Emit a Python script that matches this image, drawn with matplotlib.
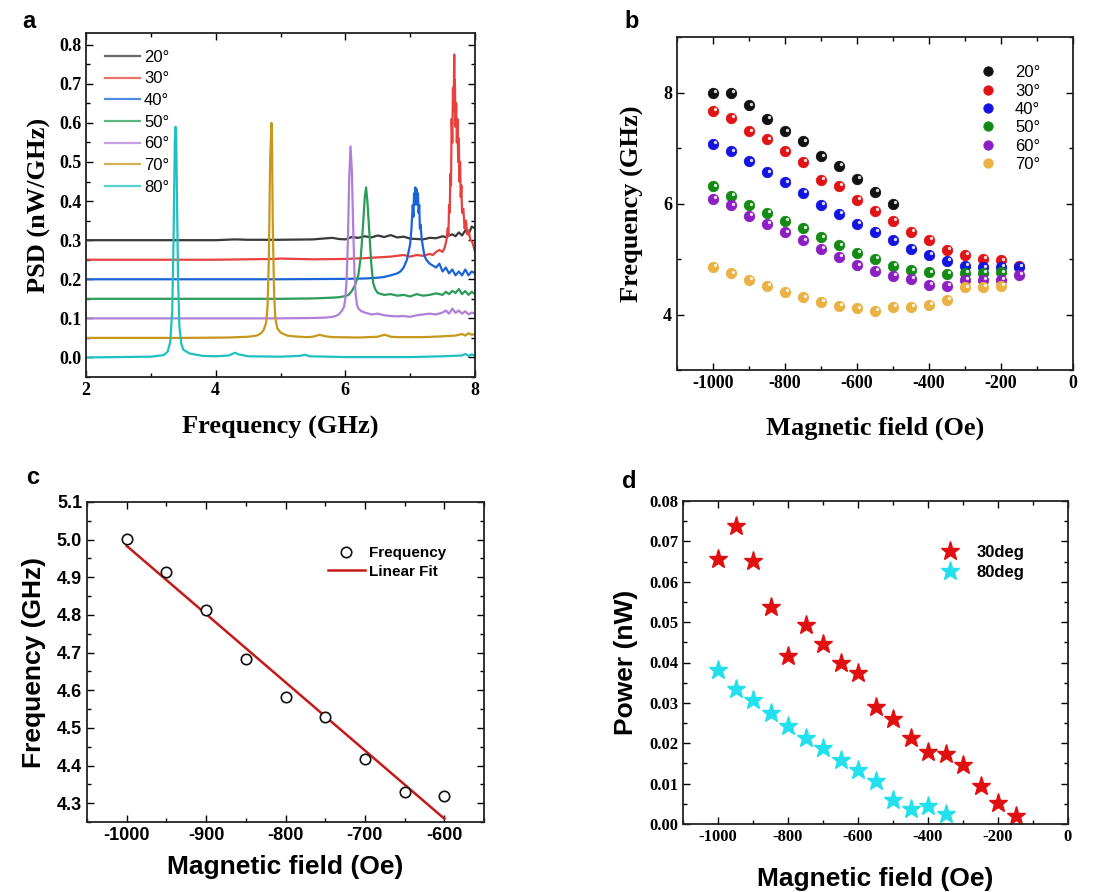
import numpy as np
import matplotlib
matplotlib.use("Agg")
import matplotlib.pyplot as plt
from matplotlib.ticker import MultipleLocator, FormatStrFormatter
from matplotlib import transforms

plt.rcParams["axes.unicode_minus"] = False

# ---------------- Panel a data: PSD spectra (values above each trace's baseline) ----------------
angles_a = ["20°", "30°", "40°", "50°", "60°", "70°", "80°"]
offsets_a = [0.30, 0.25, 0.20, 0.15, 0.10, 0.05, 0.00]
colors_a = ["#3a3a3a", "#e8403c", "#1a64d8", "#2b9c58", "#b07fd8", "#c6991c", "#1fc0c0"]

f20 = [2, 4.0, 4.3, 4.5, 5.0, 5.5, 5.8, 5.9, 6.0, 6.1, 6.2, 6.3, 6.4, 6.5, 6.6, 6.7, 6.8, 6.9, 7.0,
       7.1, 7.2, 7.3, 7.4, 7.5, 7.55, 7.6, 7.65, 7.7, 7.75, 7.8, 7.85, 7.9, 7.95, 8.0]
p20 = [0, 0, 0.002, 0.001, 0.001, 0.002, 0.006, 0.003, 0.002, 0.008, 0.006, 0.01, 0.007, 0.012, 0.008,
       0.013, 0.007, 0.009, 0.004, 0.003, 0.002, 0.006, 0.005, 0.01, 0.008, 0.012, 0.015, 0.01, 0.02,
       0.012, 0.025, 0.015, 0.035, 0.03]

f30 = [2.0, 4.0, 4.9, 5.0, 5.5, 6.0, 6.3, 6.5, 6.7, 6.8, 6.9, 7.0, 7.1, 7.2, 7.3, 7.35, 7.4, 7.45,
       7.5, 7.53, 7.56, 7.58, 7.59, 7.6, 7.61, 7.62, 7.63, 7.64, 7.65, 7.66, 7.67, 7.68, 7.685, 7.69,
       7.7, 7.71, 7.72, 7.73, 7.74, 7.75, 7.76, 7.77, 7.78, 7.79, 7.8, 7.82, 7.84, 7.86, 7.88, 7.9,
       7.93, 7.96, 8.0]
p30 = [0, 0, 0.002, 0.003, 0.001, 0.002, 0.004, 0.006, 0.008, 0.01, 0.012, 0.008, 0.012, 0.01, 0.015,
       0.012, 0.02, 0.025, 0.02, 0.03, 0.05, 0.08, 0.06, 0.14, 0.12, 0.22, 0.19, 0.36, 0.30, 0.44,
       0.38, 0.525, 0.40, 0.46, 0.34, 0.40, 0.30, 0.36, 0.25, 0.31, 0.20, 0.25, 0.16, 0.19, 0.12,
       0.13, 0.08, 0.10, 0.065, 0.075, 0.05, 0.045, 0.02]

f40 = [2, 5, 6.0, 6.3, 6.5, 6.6, 6.7, 6.8, 6.85, 6.9, 6.95, 7.0, 7.02, 7.04, 7.05, 7.06, 7.07, 7.08,
       7.09, 7.1, 7.11, 7.12, 7.13, 7.14, 7.15, 7.16, 7.18, 7.2, 7.22, 7.25, 7.3, 7.35, 7.4, 7.45,
       7.5, 7.55, 7.6, 7.65, 7.7, 7.75, 7.8, 7.85, 7.9, 7.95, 8.0]
p40 = [0, 0, 0.001, 0.002, 0.004, 0.006, 0.01, 0.015, 0.02, 0.03, 0.05, 0.09, 0.13, 0.19, 0.16, 0.22,
       0.19, 0.235, 0.20, 0.23, 0.19, 0.22, 0.17, 0.19, 0.13, 0.14, 0.10, 0.08, 0.06, 0.05, 0.04,
       0.035, 0.03, 0.04, 0.02, 0.03, 0.015, 0.025, 0.01, 0.02, 0.01, 0.025, 0.01, 0.02, 0.015]

f50 = [2, 5.0, 5.5, 5.8, 5.9, 6.0, 6.05, 6.1, 6.15, 6.2, 6.24, 6.27, 6.3, 6.32, 6.34, 6.37, 6.4, 6.43,
       6.46, 6.5, 6.6, 6.7, 6.8, 6.9, 7.0, 7.1, 7.2, 7.3, 7.4, 7.5, 7.55, 7.6, 7.65, 7.7, 7.75, 7.8,
       7.85, 7.9, 7.95, 8.0]
p50 = [0, 0, 0.001, 0.003, 0.004, 0.007, 0.01, 0.02, 0.035, 0.06, 0.11, 0.18, 0.26, 0.285, 0.25, 0.17,
       0.09, 0.04, 0.025, 0.015, 0.01, 0.012, 0.008, 0.01, 0.006, 0.012, 0.008, 0.01, 0.014, 0.01,
       0.018, 0.012, 0.02, 0.015, 0.025, 0.012, 0.02, 0.01, 0.018, 0.012]

f60 = [2, 5.0, 5.5, 5.7, 5.8, 5.85, 5.9, 5.95, 5.98, 6.0, 6.02, 6.04, 6.06, 6.08, 6.1, 6.12, 6.14,
       6.16, 6.18, 6.2, 6.25, 6.3, 6.4, 6.5, 6.6, 6.7, 6.8, 6.9, 7.0, 7.1, 7.2, 7.3, 7.4, 7.5, 7.55,
       7.6, 7.65, 7.7, 7.75, 7.8, 7.85, 7.9, 7.95, 8.0]
p60 = [0, 0, 0.001, 0.002, 0.004, 0.006, 0.01, 0.02, 0.03, 0.05, 0.10, 0.2, 0.36, 0.44, 0.38, 0.24,
       0.12, 0.06, 0.035, 0.025, 0.018, 0.015, 0.01, 0.012, 0.008, 0.006, 0.005, 0.006, 0.004, 0.008,
       0.01, 0.012, 0.01, 0.015, 0.02, 0.012, 0.025, 0.014, 0.02, 0.012, 0.018, 0.01, 0.015, 0.012]

f70 = [2, 3.5, 4.2, 4.5, 4.6, 4.65, 4.7, 4.74, 4.78, 4.8, 4.82, 4.84, 4.86, 4.87, 4.88, 4.9, 4.92,
       4.95, 5.0, 5.05, 5.1, 5.2, 5.4, 5.5, 5.6, 5.7, 5.8, 6.2, 6.5, 6.6, 6.65, 6.7, 6.8, 7.2, 7.5,
       7.7, 7.8, 7.85, 7.9, 7.95, 8.0]
p70 = [0, 0, 0.001, 0.003, 0.005, 0.007, 0.012, 0.02, 0.04, 0.08, 0.2, 0.45, 0.55, 0.5, 0.3, 0.12,
       0.05, 0.025, 0.014, 0.01, 0.006, 0.004, 0.002, 0.003, 0.008, 0.004, 0.002, 0.001, 0.003, 0.008,
       0.006, 0.003, 0.002, 0.002, 0.004, 0.006, 0.01, 0.006, 0.012, 0.008, 0.01]

f80 = [2.0, 2.5, 3.0, 3.2, 3.26, 3.3, 3.33, 3.35, 3.37, 3.38, 3.39, 3.40, 3.42, 3.44, 3.47, 3.5, 3.6,
       3.8, 4.0, 4.2, 4.3, 4.35, 4.5, 5.0, 5.3, 5.38, 5.45, 6.0, 7.0, 7.5, 7.8, 7.85, 7.9, 7.95, 8.0]
p80 = [0.0, 0.001, 0.002, 0.006, 0.015, 0.04, 0.12, 0.3, 0.55, 0.59, 0.58, 0.45, 0.2, 0.08, 0.035,
       0.02, 0.01, 0.004, 0.003, 0.005, 0.012, 0.008, 0.003, 0.002, 0.004, 0.007, 0.003, 0.001, 0.001,
       0.003, 0.005, 0.009, 0.004, 0.008, 0.004]

freqs_a = [f20, f30, f40, f50, f60, f70, f80]
psds_a = [p20, p30, p40, p50, p60, p70, p80]

# ---------------- Panel b data: resonance frequency vs field ----------------
field_b = [-1000, -950, -900, -850, -800, -750, -700, -650, -600, -550, -500, -450, -400, -350,
           -300, -250, -200, -150]
labels_b = ["20°", "30°", "40°", "50°", "60°", "70°"]
colors_b = ["#111111", "#e01414", "#1414e0", "#138a13", "#8c1fc4", "#eab143"]
freq20_b = [8.00, 7.99, 7.77, 7.53, 7.30, 7.12, 6.85, 6.68, 6.44, 6.21, 5.99]
freq30_b = [7.67, 7.54, 7.30, 7.16, 6.94, 6.75, 6.43, 6.32, 6.07, 5.87, 5.69, 5.49, 5.35, 5.17,
            5.08, 5.00, 4.98, 4.88]
freq40_b = [7.08, 6.94, 6.76, 6.56, 6.38, 6.19, 5.98, 5.81, 5.63, 5.49, 5.34, 5.18, 5.08, 4.97,
            4.88, 4.85, 4.86, 4.86]
freq50_b = [6.31, 6.14, 5.97, 5.83, 5.69, 5.55, 5.39, 5.25, 5.11, 5.00, 4.88, 4.80, 4.76, 4.73,
            4.75, 4.75, 4.76]
freq60_b = [6.08, 5.97, 5.78, 5.63, 5.48, 5.34, 5.18, 5.04, 4.89, 4.79, 4.70, 4.64, 4.53, 4.52,
            4.63, 4.63, 4.63, 4.71]
freq70_b = [4.86, 4.74, 4.63, 4.52, 4.41, 4.31, 4.23, 4.16, 4.11, 4.07, 4.14, 4.14, 4.17, 4.26,
            4.49, 4.50, 4.52]
freqs_b = [freq20_b, freq30_b, freq40_b, freq50_b, freq60_b, freq70_b]

# ---------------- Panel c data ----------------
field_c = [-1000, -950, -900, -850, -800, -750, -700, -650, -600]
freq_c = [5.003, 4.913, 4.812, 4.684, 4.583, 4.530, 4.418, 4.329, 4.318]

# ---------------- Panel d data ----------------
field_d30 = [-1000, -950, -900, -850, -800, -750, -700, -650, -600, -550, -500, -450, -400, -350,
             -300, -250, -200, -150]
power_d30 = [0.0656, 0.0737, 0.0652, 0.0538, 0.0417, 0.0493, 0.0445, 0.0400, 0.0375, 0.0289,
             0.0260, 0.0214, 0.0178, 0.0174, 0.0147, 0.0095, 0.0052, 0.0021]
field_d80 = [-1000, -950, -900, -850, -800, -750, -700, -650, -600, -550, -500, -450, -400, -350]
power_d80 = [0.0382, 0.0334, 0.0307, 0.0274, 0.0243, 0.0213, 0.0189, 0.0159, 0.0134, 0.0107,
             0.0059, 0.0038, 0.0045, 0.0026]

# ---------------- Figure ----------------
W, H = 1105, 892
fig = plt.figure(figsize=(W / 100, H / 100), dpi=100)


def box(l, t, r, b):
    return [l / W, 1 - b / H, (r - l) / W, (b - t) / H]


SERIF = "Liberation Serif"
SANS = "Liberation Sans"


def style_ticks(ax, family, size):
    ax.tick_params(which="both", direction="in", top=True, right=True, width=1.0)
    ax.tick_params(which="major", length=5)
    ax.tick_params(which="minor", length=3)
    for lab in ax.get_xticklabels() + ax.get_yticklabels():
        lab.set_fontfamily(family)
        lab.set_fontweight("bold")
        lab.set_fontsize(size)
    for s in ax.spines.values():
        s.set_linewidth(1.3)
        s.set_color("#222222")


# ---- Panel a ----
axa = fig.add_axes(box(86, 33, 475, 377))
for lab, off, col, f, p in zip(angles_a, offsets_a, colors_a, freqs_a, psds_a):
    axa.plot(f, np.array(p) + off, color=col, lw=1.6, label=lab)
axa.set_xlim(2, 8)
axa.set_ylim(-0.05, 0.83)
axa.xaxis.set_major_locator(MultipleLocator(2))
axa.xaxis.set_minor_locator(MultipleLocator(1))
axa.yaxis.set_major_locator(MultipleLocator(0.1))
axa.yaxis.set_minor_locator(MultipleLocator(0.05))
axa.yaxis.set_major_formatter(FormatStrFormatter("%.1f"))
style_ticks(axa, SERIF, 13)
axa.set_xlabel("Frequency (GHz)", fontfamily=SERIF, fontweight="bold", fontsize=19, labelpad=12)
axa.set_ylabel("PSD (nW/GHz)", fontfamily=SERIF, fontweight="bold", fontsize=19, labelpad=6)
lega = axa.legend(loc="upper left", frameon=False, prop={"family": SANS, "size": 12},
                  handlelength=2.1, handletextpad=0.25, labelspacing=0.4,
                  bbox_to_anchor=(0.01, 0.995))
for h in lega.get_lines():
    h.set_alpha(0.75)
    h.set_linewidth(1.6)

# ---- Panel b ----
axb = fig.add_axes(box(677, 37, 1073, 370))
hl_off = transforms.offset_copy(axb.transData, fig=fig, x=1.6, y=1.6, units="dots")
for lab, col, fr in zip(labels_b, colors_b, freqs_b):
    xs = field_b[:len(fr)]
    axb.plot(xs, fr, ls="none", marker="o", ms=7.5, mfc=col, mec=col, mew=0.6, label=lab)
    axb.plot(xs, fr, ls="none", marker="o", ms=2.4, mfc="white", mec="none", alpha=0.85,
             transform=hl_off)
axb.set_xlim(-1100, 0)
axb.set_ylim(3, 9)
axb.xaxis.set_major_locator(MultipleLocator(200))
axb.xaxis.set_minor_locator(MultipleLocator(100))
axb.yaxis.set_major_locator(MultipleLocator(2))
axb.yaxis.set_minor_locator(MultipleLocator(1))
style_ticks(axb, SERIF, 13)
axb.set_xlabel("Magnetic field (Oe)", fontfamily=SERIF, fontweight="bold", fontsize=19, labelpad=18)
axb.set_ylabel("Frequency (GHz)", fontfamily=SERIF, fontweight="bold", fontsize=19, labelpad=14)
axb.legend(loc="upper right", frameon=False, prop={"family": SANS, "size": 12},
           handletextpad=0.6, labelspacing=0.2, bbox_to_anchor=(0.955, 0.96), markerscale=0.9)

# ---- Panel c ----
axc = fig.add_axes(box(87, 502, 484, 822))
slope, icpt = np.polyfit(field_c, freq_c, 1)
fit_x = np.array([min(field_c), max(field_c)])
axc.plot(field_c, freq_c, ls="none", marker="o", ms=7.5, mfc="white", mec="#111111", mew=1.2,
         label="Frequency", zorder=3)
axc.plot(fit_x, slope * fit_x + icpt, color="#c41a1a", lw=1.8, label="Linear Fit", zorder=2)
axc.set_xlim(-1050, -550)
axc.set_ylim(4.25, 5.1)
axc.xaxis.set_major_locator(MultipleLocator(100))
axc.xaxis.set_minor_locator(MultipleLocator(50))
axc.yaxis.set_major_locator(MultipleLocator(0.1))
axc.yaxis.set_minor_locator(MultipleLocator(0.05))
axc.yaxis.set_major_formatter(FormatStrFormatter("%.1f"))
style_ticks(axc, SANS, 13)
axc.set_xlabel("Magnetic field (Oe)", fontfamily=SANS, fontweight="bold", fontsize=19, labelpad=8)
axc.set_ylabel("Frequency (GHz)", fontfamily=SANS, fontweight="bold", fontsize=19, labelpad=8)
axc.legend(loc="upper right", frameon=False, prop={"family": SANS, "size": 11, "weight": "bold"},
           handlelength=2.4, handletextpad=0.3, labelspacing=0.3, bbox_to_anchor=(0.94, 0.905))

# ---- Panel d ----
axd = fig.add_axes(box(683, 501, 1068, 824))
axd.plot(field_d30, power_d30, ls="none", marker="*", ms=14, mfc="#e01010", mec="#e01010",
         label="30deg")
axd.plot(field_d80, power_d80, ls="none", marker="*", ms=14, mfc="#22e0ec", mec="#22e0ec",
         label="80deg")
axd.set_xlim(-1100, 0)
axd.set_ylim(0, 0.08)
axd.xaxis.set_major_locator(MultipleLocator(200))
axd.xaxis.set_minor_locator(MultipleLocator(100))
axd.yaxis.set_major_locator(MultipleLocator(0.01))
axd.yaxis.set_minor_locator(MultipleLocator(0.005))
axd.yaxis.set_major_formatter(FormatStrFormatter("%.2f"))
style_ticks(axd, SERIF, 12)
axd.set_xlabel("Magnetic field (Oe)", fontfamily=SANS, fontweight="bold", fontsize=19, labelpad=16)
axd.set_ylabel("Power (nW)", fontfamily=SANS, fontweight="bold", fontsize=19, labelpad=8)
axd.legend(loc="upper right", frameon=False, prop={"family": SANS, "size": 12, "weight": "bold"},
           handletextpad=0.6, labelspacing=0.3, bbox_to_anchor=(0.925, 0.91))

# panel letters
for txt, x, y in [("a", 22, 22), ("b", 624, 22), ("c", 26, 478), ("d", 622, 482)]:
    fig.text(x / W, 1 - y / H, txt, fontfamily=SANS, fontweight="bold", fontsize=17,
             ha="left", va="center")

fig.savefig("out.png", dpi=100)
